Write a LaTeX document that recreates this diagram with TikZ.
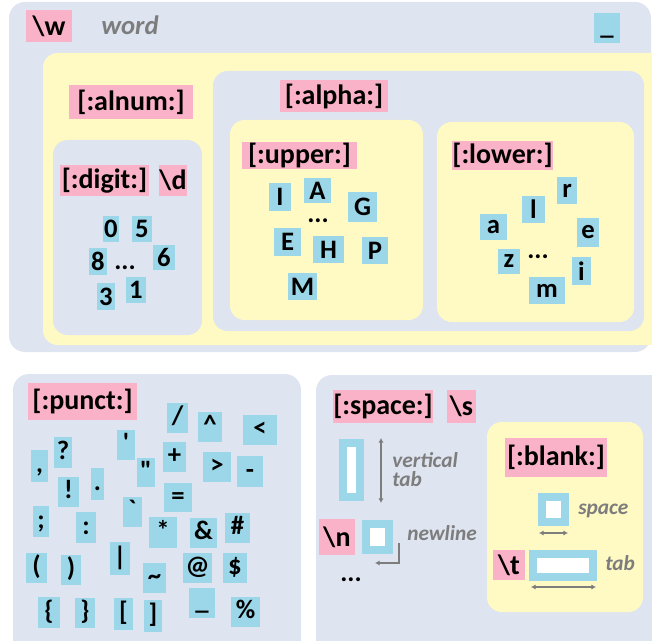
\documentclass[tikz,border=0pt]{standalone}
\usepackage{fontspec}
\setmainfont{Carlito}
\newfontfamily\rawfont{Carlito}
\usetikzlibrary{arrows.meta}
\definecolor{panel}{RGB}{222,228,240}
\definecolor{ylw}{RGB}{255,250,195}
\definecolor{pnk}{RGB}{250,178,200}
\definecolor{cyn}{RGB}{155,215,232}
\definecolor{gtxt}{RGB}{125,125,125}
\newcommand\bx[7]{\node[#2, minimum width={(#5-#3)*0.75pt}, minimum height={(#6-#4)*0.75pt}] (#1) at ({(#3+#5)/2},{(#4+#6)/2}) {#7};}
\tikzset{
  lbl/.style={fill=pnk, inner sep=0pt, font=\bfseries\fontsize{21}{24}\selectfont},
  ch/.style={fill=cyn, inner sep=0pt, font=\bfseries\fontsize{20}{24}\selectfont},
  pch/.style={ch, font=\rawfont\bfseries\fontsize{20}{24}\selectfont, text height=14pt, text depth=4pt},
  dots/.style={inner sep=0pt, font=\bfseries\fontsize{20}{24}\selectfont, text height=3pt, text depth=0pt},
  gray label/.style={inner sep=0pt, text=gtxt, font=\bfseries\itshape\fontsize{16}{14.5}\selectfont},
  wsbox/.style={draw=cyn, fill=white, line width=6pt, inner sep=0pt},
  garrow/.style={draw=gtxt, line width=1.4pt, {Latex[length=3.5pt,width=4pt]}-{Latex[length=3.5pt,width=4pt]}},
  panelbox/.style={fill=panel, rounded corners=12pt},
  ylwbox/.style={fill=ylw, rounded corners=11pt},
}
\begin{document}
\begin{tikzpicture}[x=0.75pt, y=-0.75pt]
\useasboundingbox (0,0) rectangle (652,641);
\clip (0,0) rectangle (652,641);
% panels
\fill[panelbox] (9,2) rectangle (651,352);
\fill[ylwbox] (43,53) rectangle (670,345);
\fill[panelbox, rounded corners=11pt] (213,71) rectangle (644,331);
\fill[ylwbox] (230,120) rectangle (423,320);
\fill[ylwbox] (437,122) rectangle (634,322);
\fill[panelbox, rounded corners=11pt] (53,140) rectangle (202,335);
\fill[panelbox] (13,374) rectangle (301,660);
\fill[panelbox] (316,375) rectangle (670,660);
\fill[ylwbox] (487,422) rectangle (643,612);

% word
\bx{w}{lbl}{26}{10}{72}{42}{\textbackslash w}
\node[gray label, font=\bfseries\itshape\fontsize{20}{24}\selectfont, anchor=base west] (word) at (101,35) {word};
\bx{us}{pch}{594}{13}{620}{43}{\_}

% labels
\bx{alnum}{lbl}{69}{85}{193}{119}{[:alnum:]}
\bx{alpha}{lbl}{280}{80}{388}{112}{[:alpha:]}
\bx{digit}{lbl}{60}{165}{149}{196}{[:digit:]}
\bx{d}{lbl}{159}{165}{187}{196}{\textbackslash d}
\bx{upper}{lbl}{242}{142}{357}{169}{[:upper:]}
\bx{lower}{lbl}{452}{141}{553}{170}{[:lower:]}

% digits
\bx{d0}{ch}{103}{216}{119}{242}{0}
\bx{d5}{ch}{132}{216}{152}{242}{5}
\bx{d8}{ch}{89}{248}{107}{275}{8}
\bx{d6}{ch}{153}{245}{175}{270}{6}
\bx{d3}{ch}{97}{283}{115}{310}{3}
\bx{d1}{ch}{126}{277}{146}{303}{1}
\node[dots] (ddots) at (125,268) {...};

% upper
\bx{uI}{ch}{269}{183}{291}{211}{I}
\bx{uA}{ch}{304}{178}{331}{203}{A}
\bx{uG}{ch}{348}{192}{377}{222}{G}
\bx{uE}{ch}{274}{228}{301}{256}{E}
\bx{uH}{ch}{313}{236}{344}{263}{H}
\bx{uP}{ch}{362}{237}{388}{264}{P}
\bx{uM}{ch}{288}{273}{317}{300}{M}
\node[dots] (udots) at (318,221) {...};

% lower
\bx{lr}{ch}{557}{177}{577}{204}{r}
\bx{ll}{ch}{522}{196}{545}{223}{l}
\bx{la}{ch}{480}{214}{507}{240}{a}
\bx{le}{ch}{577}{218}{599}{247}{e}
\bx{lz}{ch}{498}{249}{520}{274}{z}
\bx{li}{ch}{572}{257}{591}{285}{i}
\bx{lm}{ch}{529}{277}{565}{304}{m}
\node[dots] (ldots) at (538,257) {...};

% punct
\bx{punct}{lbl}{28}{383}{137}{420}{[:punct:]}
\bx{p1}{pch}{167}{403}{188}{433}{/}
\bx{p2}{pch}{198}{412}{222}{442}{\char94}
\bx{p3}{pch}{243}{415}{277}{445}{<}
\bx{p4}{pch}{117}{430}{135}{460}{\char39}
\bx{p5}{pch}{54}{437}{72}{468}{?}
\bx{p6}{pch}{31}{450}{48}{482}{,}
\bx{p7}{pch}{137}{458}{155}{487}{\char34}
\bx{p8}{pch}{163}{442}{186}{472}{+}
\bx{p9}{pch}{203}{452}{231}{482}{>}
\bx{p10}{pch}{237}{456}{263}{487}{-}
\bx{p11}{pch}{58}{477}{79}{507}{!}
\bx{p12}{pch}{91}{468}{104}{500}{.}
\bx{p13}{pch}{164}{483}{192}{512}{=}
\bx{p14}{pch}{123}{497}{142}{527}{\char96}
\bx{p15}{pch}{33}{506}{49}{537}{;}
\bx{p16}{pch}{76}{512}{96}{543}{:}
\bx{p17}{pch}{149}{517}{177}{548}{*}
\bx{p18}{pch}{190}{518}{217}{548}{\&}
\bx{p19}{pch}{225}{513}{250}{543}{\#}
\bx{p20}{pch}{110}{542}{130}{575}{|}
\bx{p21}{pch}{26}{553}{47}{583}{(}
\bx{p22}{pch}{61}{555}{81}{585}{)}
\bx{p23}{pch}{143}{563}{166}{593}{\char126}
\bx{p24}{pch}{183}{553}{212}{583}{@}
\bx{p25}{pch}{223}{553}{247}{583}{\$}
\bx{p26}{pch}{38}{597}{60}{628}{\{}
\bx{p27}{pch}{75}{598}{95}{628}{\}}
\bx{p28}{pch}{114}{598}{133}{630}{[}
\bx{p29}{pch}{144}{600}{162}{632}{]}
\bx{p30}{pch}{189}{588}{215}{618}{\_}
\bx{p31}{pch}{231}{597}{260}{627}{\%}

% space
\bx{space}{lbl}{333}{390}{433}{423}{[:space:]}
\bx{s}{lbl}{447}{390}{476}{423}{\textbackslash s}
\bx{vt}{wsbox}{343}{443}{360}{497}{}
\coordinate (vtA) at (381,438);
\coordinate (vtB) at (381,503);
\draw[garrow] (vtA) -- (vtB);
\node[gray label, anchor=north west, align=left] (vtlab) at (392,452) {vertical\\tab};
\bx{n}{lbl}{319}{519}{355}{555}{\textbackslash n}
\bx{nl}{wsbox}{366}{524}{389}{550}{}
\coordinate (nlA) at (399,543);
\coordinate (nlB) at (375,563);
\draw[draw=gtxt, line width=1.4pt, -{Latex[length=3.5pt,width=4pt]}] (nlA) |- (nlB);
\node[gray label, anchor=base west] (nllab) at (407,540) {newline};
\node[dots] (sdots) at (351,579) {...};

% blank
\bx{blank}{lbl}{505}{438}{607}{477}{[:blank:]}
\bx{sp}{wsbox}{542}{497}{565}{522}{}
\coordinate (spA) at (539,533);
\coordinate (spB) at (568,533);
\draw[garrow] (spA) -- (spB);
\node[gray label, anchor=base west] (splab) at (578,514) {space};
\bx{t}{lbl}{493}{550}{525}{580}{\textbackslash t}
\bx{tb}{wsbox}{533}{554}{593}{577}{}
\coordinate (tbA) at (531,587);
\coordinate (tbB) at (596,587);
\draw[garrow] (tbA) -- (tbB);
\node[gray label, anchor=base west] (tblab) at (605,570) {tab};
\end{tikzpicture}
\end{document}
